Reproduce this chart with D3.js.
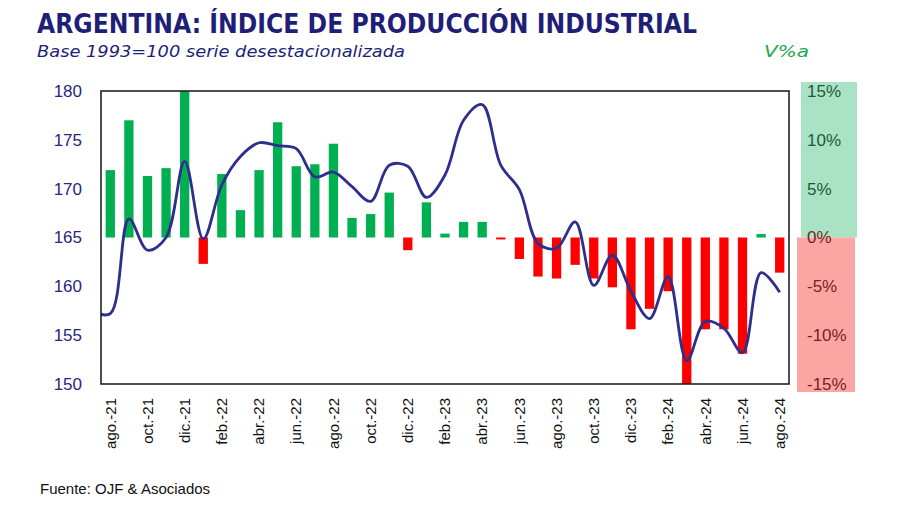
<!DOCTYPE html>
<html><head><meta charset="utf-8">
<script src="https://cdn.jsdelivr.net/npm/d3@7"></script>
<style>body{margin:0;background:#fff;}svg{display:block;}</style>
</head><body>
<svg id="c" width="900" height="505"></svg>
<script>
const months = ["ago.-21","sep.-21","oct.-21","nov.-21","dic.-21","ene.-22","feb.-22","mar.-22","abr.-22","may.-22","jun.-22","jul.-22","ago.-22","sep.-22","oct.-22","nov.-22","dic.-22","ene.-23","feb.-23","mar.-23","abr.-23","may.-23","jun.-23","jul.-23","ago.-23","sep.-23","oct.-23","nov.-23","dic.-23","ene.-24","feb.-24","mar.-24","abr.-24","may.-24","jun.-24","jul.-24","ago.-24"];
const varPct = [6.9,12.0,6.3,7.1,15.3,-2.7,6.5,2.8,6.9,11.8,7.3,7.5,9.6,2.0,2.4,4.6,-1.3,3.6,0.4,1.6,1.6,-0.2,-2.2,-4.0,-4.2,-2.8,-4.2,-5.1,-9.4,-7.3,-5.5,-15.3,-9.4,-9.4,-11.9,0.35,-3.6];
// index series starts one month earlier (jul.-21), partly hidden at the left edge
const lineMonths = ["jul.-21"].concat(months);
const index = [157.4,157.2,166.9,163.7,165.0,172.8,164.85,170.4,173.3,174.7,174.4,174.1,171.2,171.7,170.2,168.7,172.4,172.3,169.1,171.4,177.0,178.6,172.4,169.9,164.4,163.9,166.6,160.1,163.2,159.5,156.7,161.0,152.4,156.4,155.7,153.2,161.4,159.4];
const leftTicks = [150,155,160,165,170,175,180];
const rightTicks = [-15,-10,-5,0,5,10,15];
const tickLabels = months.filter((m,i)=>i%2===0);

const svg = d3.select("#c");
const L=101,R=789,T=91,B=384;
const x = d3.scaleBand().domain(months).range([L,R]).paddingInner(0.5).paddingOuter(0.25);
const y = d3.scaleLinear().domain([150,180]).range([B,T]);
const y2 = d3.scaleLinear().domain([-15,15]).range([B,T]);
const xLine = i => x(months[0]) + x.bandwidth()/2 + (i-1)*x.step();

// Title
svg.append("text").attr("x",37).attr("y",33).attr("textLength",660).attr("lengthAdjust","spacingAndGlyphs")
  .style("font-family","'DejaVu Sans'").style("font-weight","bold").style("font-size","26px").style("fill","#1F1F78")
  .text("ARGENTINA: ÍNDICE DE PRODUCCIÓN INDUSTRIAL");
svg.append("text").attr("x",37).attr("y",57).attr("textLength",368).attr("lengthAdjust","spacingAndGlyphs")
  .style("font-family","'DejaVu Sans'").style("font-style","italic").style("font-size","16px").style("fill","#1F1F78")
  .text("Base 1993=100 serie desestacionalizada");
svg.append("text").attr("x",764).attr("y",57).attr("textLength",45).attr("lengthAdjust","spacingAndGlyphs")
  .style("font-family","'DejaVu Sans'").style("font-style","italic").style("font-size","16px").style("fill","#22A84A")
  .text("V%a");

// Right axis bands
svg.append("rect").attr("x",801).attr("y",82).attr("width",56).attr("height",y2(0)-82).attr("fill","#A9E2C4");
svg.append("rect").attr("x",797).attr("y",y2(0)).attr("width",58).attr("height",392-y2(0)).attr("fill","#FBA6A2");

// clip
svg.append("clipPath").attr("id","pc").append("rect").attr("x",L).attr("y",T).attr("width",R-L).attr("height",B-T);

const g = svg.append("g").attr("clip-path","url(#pc)");
g.selectAll("rect.bar").data(months).join("rect").attr("class","bar")
  .attr("x",d=>x(d)).attr("width",x.bandwidth())
  .attr("y",(d,i)=>varPct[i]>=0?y2(varPct[i]):y2(0))
  .attr("height",(d,i)=>Math.abs(y2(varPct[i])-y2(0)))
  .attr("fill",(d,i)=>varPct[i]>=0?"#00B050":"#FF0000");

const line = d3.line().x((d,i)=>xLine(i)).y(d=>y(d)).curve(d3.curveCatmullRom.alpha(0.5));
g.append("path").datum(index).attr("d",line).attr("fill","none").attr("stroke","#2E2F8C").attr("stroke-width",2.8);

// frame
svg.append("rect").attr("x",L).attr("y",T).attr("width",R-L).attr("height",B-T).attr("fill","none").attr("stroke","#222").attr("stroke-width",1.6);

// Left axis
const ax = d3.axisLeft(y).tickValues(leftTicks).tickSize(0).tickPadding(19);
const ag = svg.append("g").attr("transform",`translate(${L},0)`).call(ax);
ag.select(".domain").remove();
ag.selectAll("text").style("font-family","'Liberation Sans'").style("font-size","17px").style("fill","#27277E");

// Right axis
const ax2 = d3.axisRight(y2).tickValues(rightTicks).tickSize(0).tickPadding(18).tickFormat(d=>d+"%");
const ag2 = svg.append("g").attr("transform",`translate(${R},0)`).call(ax2);
ag2.select(".domain").remove();
ag2.selectAll("text").style("font-family","'Liberation Sans'").style("font-size","17px")
  .style("fill",d=>d>0?"#1D5A36":"#7A1F1F");

// Bottom axis labels
const bx = d3.axisBottom(x).tickValues(tickLabels).tickSize(0).tickPadding(0);
const bg = svg.append("g").attr("transform",`translate(0,${B})`).call(bx);
bg.select(".domain").remove();
bg.selectAll("text").style("font-family","'Liberation Sans'").style("font-size","15px").style("fill","#111")
  .attr("transform","rotate(-90)").attr("x",-14).attr("y",0).attr("dy","0.35em").style("text-anchor","end");

// Footer
svg.append("text").attr("x",40).attr("y",494).style("font-family","'Liberation Sans'").style("font-size","15px").style("fill","#111")
  .text("Fuente: OJF & Asociados");
</script>
</body></html>
